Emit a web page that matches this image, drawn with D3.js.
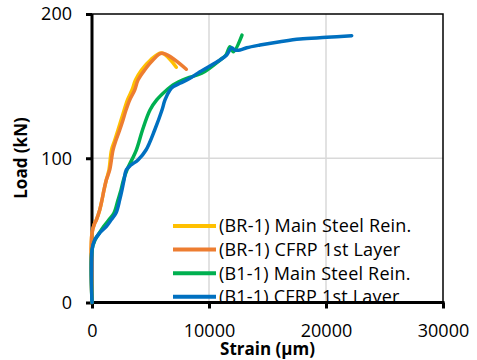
<!DOCTYPE html>
<html>
<head>
<meta charset="utf-8">
<script src="https://cdn.jsdelivr.net/npm/d3@7"></script>
<style>
  html, body { margin: 0; padding: 0; background: #fff; }
  svg { display: block; font-family: "Open Sans", "Liberation Sans", sans-serif; }
</style>
</head>
<body>
<svg id="chart" width="477" height="360"></svg>
<script>
// Load–strain readings (strain in µm, load in kN)
const seriesNames = [
  "(BR-1) Main Steel Rein.",
  "(BR-1) CFRP 1st Layer",
  "(B1-1) Main Steel Rein.",
  "(B1-1) CFRP 1st Layer"
];
const seriesColors = ["#FFC000", "#ED7D31", "#00B050", "#0070C0"];

const br1SteelStrain = [0, 0, 231, 370, 658, 855, 1026, 1222, 1450, 1667, 1950, 2222, 2620, 3034, 3419, 3718, 4231, 5000, 5940, 7205];
const br1SteelLoad   = [0, 48, 55, 57.2, 64.1, 71.1, 78, 84.9, 91.9, 105.7, 112.6, 119.6, 130, 140.4, 147.3, 154.2, 161.2, 168.1, 173, 163.1];

const br1CfrpStrain = [0, 0, 231, 370, 658, 855, 1026, 1222, 1513, 1795, 2051, 2368, 2650, 2906, 3222, 3650, 3932, 4504, 5214, 5983, 8060];
const br1CfrpLoad   = [0, 48.2, 54.9, 57.2, 64.1, 71.1, 78, 84.9, 91.9, 105.7, 112.6, 119.6, 126.5, 133.4, 140.4, 147.3, 154.2, 161.2, 168.1, 172.8, 161.7];

const b11SteelStrain = [0, 0, 256, 684, 1026, 1427, 1880, 2222, 2479, 2692, 2991, 3786, 4316, 4957, 5530, 6385, 6923, 8094, 9376, 10940, 11453, 11795, 12077, 12821];
const b11SteelLoad   = [0, 36.4, 43.3, 48.9, 53, 57.2, 62, 71.1, 78, 84.9, 91.9, 105.7, 119.6, 133.4, 140.4, 147.3, 150.8, 155.4, 158.9, 168.1, 171.6, 177.3, 173.9, 185.4];

const b11CfrpStrain = [0, 0, 231, 658, 1197, 1624, 2051, 2368, 2564, 2735, 2932, 3333, 3932, 4615, 5359, 5983, 6239, 6667, 6949, 7521, 8376, 9231, 10940, 11513, 11940, 12222, 12650, 13222, 14359, 16068, 17778, 20060, 22197];
const b11CfrpLoad   = [0, 36.4, 43.3, 48.2, 52.5, 57.2, 62, 71.1, 78, 84.9, 91.9, 95.3, 98.8, 105.7, 119.6, 133.4, 140.4, 147.3, 149.6, 152, 155.4, 160, 168.1, 171.6, 176.6, 175, 175, 176.6, 178.5, 180.8, 182.7, 183.8, 185];

const xTicks = [0, 10000, 20000, 30000];
const yTicks = [0, 100, 200];
const xTitle = "Strain (µm)";
const yTitle = "Load (kN)";

const seriesData = [
  [br1SteelStrain, br1SteelLoad],
  [br1CfrpStrain, br1CfrpLoad],
  [b11SteelStrain, b11SteelLoad],
  [b11CfrpStrain, b11CfrpLoad]
].map(([s, l]) => s.map((v, i) => ({ strain: v, load: l[i] })));

const svg = d3.select("#chart");
const plot = { left: 92, right: 443, top: 14, bottom: 302.5 };

const x = d3.scaleLinear().domain([0, 30000]).range([plot.left, plot.right]);
const y = d3.scaleLinear().domain([0, 200]).range([plot.bottom, plot.top]);

// Gridlines
svg.append("g")
  .selectAll("line.vg")
  .data(xTicks.filter(d => d > 0 && d < 30000))
  .join("line")
  .attr("x1", d => x(d)).attr("x2", d => x(d))
  .attr("y1", plot.top).attr("y2", plot.bottom)
  .attr("stroke", "#d9d9d9").attr("stroke-width", 1.5);
svg.append("g")
  .selectAll("line.hg")
  .data(yTicks.filter(d => d > 0 && d < 200))
  .join("line")
  .attr("x1", plot.left).attr("x2", plot.right)
  .attr("y1", d => y(d)).attr("y2", d => y(d))
  .attr("stroke", "#d9d9d9").attr("stroke-width", 1.5);

// Legend, clipped to the plot area
svg.append("defs").append("clipPath").attr("id", "plotClip")
  .append("rect")
  .attr("x", plot.left).attr("y", plot.top)
  .attr("width", plot.right - plot.left).attr("height", plot.bottom - plot.top);

const legend = svg.append("g").attr("clip-path", "url(#plotClip)");
const legendY = i => 226 + i * 23.6;
seriesNames.forEach((name, i) => {
  legend.append("line")
    .attr("x1", 173).attr("x2", 216)
    .attr("y1", legendY(i)).attr("y2", legendY(i))
    .attr("stroke", seriesColors[i]).attr("stroke-width", 4);
  legend.append("text")
    .attr("x", 219).attr("y", legendY(i))
    .attr("dy", "0.36em")
    .attr("font-size", 18)
    .attr("letter-spacing", 0.2)
    .attr("fill", "#000")
    .text(name);
});

// Plot frame (top and right)
svg.append("path")
  .attr("d", `M${plot.left},${plot.top}H${plot.right}V${plot.bottom}`)
  .attr("fill", "none").attr("stroke", "#000").attr("stroke-width", 1.5);

// Axes
const xAxis = svg.append("g")
  .attr("transform", `translate(0,${plot.bottom})`)
  .call(d3.axisBottom(x).tickValues(xTicks).tickFormat(d3.format("d")).tickSize(6).tickSizeOuter(0).tickPadding(18));
const yAxis = svg.append("g")
  .attr("transform", `translate(${plot.left},0)`)
  .call(d3.axisLeft(y).tickValues(yTicks).tickFormat(d3.format("d")).tickSize(6).tickSizeOuter(0).tickPadding(14));

[xAxis, yAxis].forEach(a => {
  a.select(".domain").attr("stroke", "#000").attr("stroke-width", 3);
  a.selectAll(".tick line").attr("stroke", "#000").attr("stroke-width", 3);
  a.selectAll(".tick text")
    .attr("font-size", 18)
    .attr("font-family", "'Open Sans', 'Liberation Sans', sans-serif")
    .attr("fill", "#000");
});
xAxis.selectAll(".tick text").attr("dy", "0.6em");
xAxis.select(".domain").attr("d", `M${plot.left - 1.5},0H${plot.right + 1.5}`);
yAxis.select(".domain").attr("d", `M0,${plot.top}V${plot.bottom}`);

// Series
const line = d3.line()
  .x(d => x(d.strain))
  .y(d => y(d.load))
  .curve(d3.curveCatmullRom.alpha(0.5));

svg.append("g")
  .selectAll("path")
  .data(seriesData)
  .join("path")
  .attr("d", line)
  .attr("fill", "none")
  .attr("stroke", (d, i) => seriesColors[i])
  .attr("stroke-width", 3.5)
  .attr("stroke-linejoin", "round")
  .attr("stroke-linecap", "round");

// Axis titles
svg.append("text")
  .attr("x", (plot.left + plot.right) / 2)
  .attr("y", 355)
  .attr("text-anchor", "middle")
  .attr("font-size", 17)
  .attr("font-weight", "bold")
  .text(xTitle);

svg.append("text")
  .attr("transform", `translate(27,158) rotate(-90)`)
  .attr("text-anchor", "middle")
  .attr("font-size", 17)
  .attr("font-weight", "bold")
  .text(yTitle);
</script>
</body>
</html>
